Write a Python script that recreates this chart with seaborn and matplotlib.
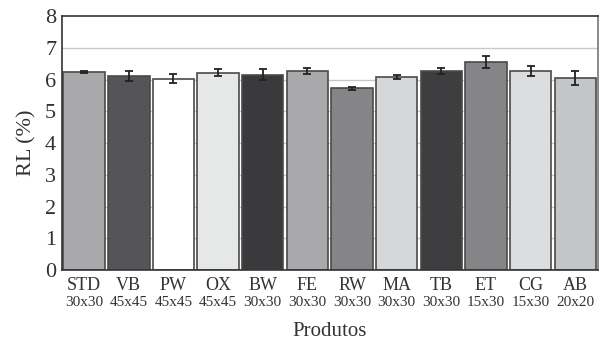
import matplotlib
matplotlib.use("Agg")
import matplotlib.pyplot as plt
import matplotlib.transforms as mtransforms
import seaborn as sns
import pandas as pd
import numpy as np

categories = ["STD", "VB", "PW", "OX", "BW", "FE", "RW", "MA", "TB", "ET", "CG", "AB"]
sizes = ["30x30", "45x45", "45x45", "45x45", "30x30", "30x30", "30x30", "30x30", "30x30", "15x30", "15x30", "20x20"]
values = [6.23, 6.12, 6.02, 6.22, 6.15, 6.27, 5.73, 6.08, 6.27, 6.55, 6.27, 6.05]
errors = [0.03, 0.15, 0.14, 0.12, 0.17, 0.10, 0.05, 0.07, 0.08, 0.18, 0.15, 0.23]
colors = ["#a9a9ab", "#555557", "#ffffff", "#e6e7e7", "#3a3a3c", "#a9a9ab",
          "#858587", "#d6d7d8", "#3e3e40", "#858587", "#dcdddf", "#c4c5c7"]
yticks = [0, 1, 2, 3, 4, 5, 6, 7, 8]

sns.set_style("white")
plt.rcParams["font.family"] = ["Liberation Serif", "DejaVu Serif"]

df = pd.DataFrame({"cat": categories, "val": values, "err": errors})

fig = plt.figure(figsize=(6.0, 3.42), dpi=100)
ax = fig.add_axes([0.103, 0.2105, 0.893, 0.7425])

for y in yticks[1:-1]:
    ax.axhline(y, color="#c8c8c8", lw=1.0, zorder=0)

sns.barplot(data=df, x="cat", y="val", hue="cat", palette=colors, legend=False,
            width=0.93, edgecolor="#4a4a4a", linewidth=1.2, ax=ax, zorder=2)
ax.errorbar(np.arange(len(categories)), df["val"], yerr=df["err"], fmt="none",
            ecolor="#222222", elinewidth=1.3, capsize=3, capthick=1.3, zorder=3)

ax.set_ylim(0, 8)
ax.set_xlim(-0.5, len(categories) - 0.5)
ax.set_yticks(yticks)
ax.set_yticklabels([str(t) for t in yticks], fontsize=16, color="#333333")
ax.set_xticks(range(len(categories)))
ax.set_xticklabels(categories, fontsize=13, color="#333333")
ax.tick_params(axis="y", length=4, width=1, direction="inout", color="#333333", pad=2)
ax.tick_params(axis="x", length=0, pad=5)

trans = mtransforms.blended_transform_factory(ax.transData, ax.transAxes)
for i, s in enumerate(sizes):
    ax.text(i, -0.102, s, transform=trans, ha="center", va="top",
            fontsize=11, color="#333333")

ax.set_ylabel("RL (%)", fontsize=16, color="#333333", labelpad=6)
ax.set_xlabel("Produtos", fontsize=15, color="#333333", labelpad=20)

for side in ["left", "bottom", "top", "right"]:
    ax.spines[side].set_visible(True)
    ax.spines[side].set_color("#333333")
    ax.spines[side].set_linewidth(1.2)
ax.spines["right"].set_color("#777777")

fig.savefig("out.png", dpi=100)
